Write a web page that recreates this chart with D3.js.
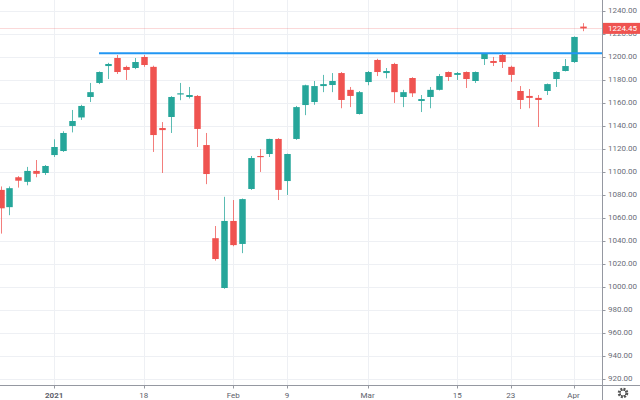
<!DOCTYPE html>
<html><head><meta charset="utf-8">
<script src="https://cdn.jsdelivr.net/npm/d3@7"></script>
<style>html,body{margin:0;padding:0;background:#fff;}svg{display:block;}</style>
</head><body>
<svg id="chart" width="640" height="400"></svg>
<script>
const dates = ["2020-12-24","2020-12-25","2020-12-28","2020-12-29","2020-12-30","2020-12-31",
"2021-01-04","2021-01-05","2021-01-06","2021-01-07","2021-01-08","2021-01-11","2021-01-12","2021-01-13","2021-01-14","2021-01-15",
"2021-01-18","2021-01-19","2021-01-20","2021-01-21","2021-01-22","2021-01-25","2021-01-26","2021-01-27","2021-01-28","2021-01-29",
"2021-02-01","2021-02-02","2021-02-03","2021-02-04","2021-02-05","2021-02-08","2021-02-09","2021-02-10","2021-02-18","2021-02-19",
"2021-02-22","2021-02-23","2021-02-24","2021-02-25","2021-02-26",
"2021-03-01","2021-03-02","2021-03-03","2021-03-04","2021-03-05","2021-03-08","2021-03-09","2021-03-10","2021-03-11","2021-03-12",
"2021-03-15","2021-03-16","2021-03-17","2021-03-18","2021-03-19","2021-03-22","2021-03-23","2021-03-24","2021-03-25","2021-03-26",
"2021-03-29","2021-03-30","2021-03-31","2021-04-01","2021-04-02"];
const open  = [1084,1069,1095,1091,1100.5,1098.7,1114.3,1117.8,1139.6,1147,1164.8,1177,1191.7,1198.7,1190.9,1190,1199.6,1191,1137.8,1147.4,1167,1164.8,1165.7,1123,1042,998.7,1057,1037,1084.8,1113.5,1115.2,1128.3,1091.7,1128.3,1157.8,1160.4,1174.3,1175.2,1185.6,1171,1150,1177.8,1197,1185.6,1193.5,1164.8,1181.3,1161.3,1164.8,1171,1186.5,1184,1186.5,1178.7,1197.8,1196.1,1201.3,1191,1170,1165.7,1164,1170,1180.4,1187.4,1195.2,1226];
const high  = [1087,1087,1096,1104,1110,1105.6,1128,1135,1153.5,1158,1177,1187,1194.5,1201.3,1192,1198.7,1201.3,1192,1143,1165.5,1177,1173.5,1166.5,1133.5,1052.6,1078,1075.2,1076.5,1113.5,1119.5,1128.5,1129,1115.5,1157,1175.5,1178.7,1184,1185.6,1186.5,1173.5,1170,1187.4,1198,1190,1194.5,1171,1182,1166.5,1173.5,1184.8,1187,1186.5,1187,1187,1203,1199.6,1202.2,1192,1174.3,1171.7,1166.5,1176.5,1187,1197.8,1217.5,1229];
const low   = [1046,1062,1086,1088,1095,1097,1112.6,1117,1134,1144.8,1160.4,1176,1180.4,1184.8,1179.6,1189,1191,1117,1098.7,1133.5,1162,1163.5,1121.3,1089,1022.5,998,1035,1029,1084,1099.6,1112.6,1075.2,1079.6,1127.5,1149,1158,1169,1169,1155,1156,1149.5,1175,1183,1181,1159.6,1156,1164.8,1151.7,1155,1170.5,1178.7,1179.6,1172.6,1177,1192.6,1191.7,1190,1178,1154.3,1155,1138.7,1166.5,1173.5,1187,1194.4,1222];
const close = [1068,1085.5,1092,1100.5,1098,1104.8,1121.3,1133.5,1143.9,1157,1169,1186.5,1193.5,1186.5,1188.3,1195.2,1192.6,1131.7,1136,1164.8,1168,1166.5,1137,1097.8,1023.9,1057,1036,1076,1111.7,1112.6,1128.3,1084,1115.2,1156,1175,1174.3,1176,1178.7,1162.2,1165.7,1169,1186.5,1186.5,1187.4,1169,1169,1168,1163,1171,1183,1182.2,1185.6,1180.4,1186.5,1202.2,1194.4,1195.2,1184,1162.2,1164,1162.2,1176,1186.5,1191.7,1217,1224.45];
const yTicks = [920,940,960,980,1000,1020,1040,1060,1080,1100,1120,1140,1160,1180,1200,1220,1240];
const xTickDates  = ["2021-01-04","2021-01-18","2021-02-01","2021-02-09","2021-03-01","2021-03-15","2021-03-23","2021-04-01"];
const xTickLabels = ["2021","18","Feb","9","Mar","15","23","Apr"];
const levelValue = 1202.8;
const levelStart = "2021-01-11";
const lastPrice = 1224.45;

const W = 640, H = 400, axisX = 602.5, axisY = 385.5;
const up = "#26a69a", down = "#ef5350";
const svg = d3.select("#chart");
const x = d3.scalePoint().domain(dates).range([0.5, 582.5]);
const y = d3.scaleLinear().domain([920, 1240]).range([378.5, 10.5]);
const font = "Roboto, 'Liberation Sans', sans-serif";

// grid
svg.append("g").selectAll("line").data(yTicks).join("line")
  .attr("x1", 0).attr("x2", axisX).attr("y1", d => Math.round(y(d)) + 0.5).attr("y2", d => Math.round(y(d)) + 0.5)
  .attr("stroke", "#eef0f4").attr("stroke-width", 1);
svg.append("g").selectAll("line").data(xTickDates).join("line")
  .attr("x1", d => Math.round(x(d)) + 0.5).attr("x2", d => Math.round(x(d)) + 0.5).attr("y1", 0).attr("y2", axisY)
  .attr("stroke", "#eef0f4").attr("stroke-width", 1);

// price line
svg.append("line").attr("x1", 0).attr("x2", axisX)
  .attr("y1", Math.round(y(lastPrice)) + 0.5).attr("y2", Math.round(y(lastPrice)) + 0.5)
  .attr("stroke", down).attr("stroke-opacity", 0.22);

// candles
const idx = d3.range(dates.length);
const bw = 6.5;
const g = svg.append("g");
g.selectAll("line.wick").data(idx).join("line").attr("class", "wick")
  .attr("x1", i => Math.round(x(dates[i])) + 0.5).attr("x2", i => Math.round(x(dates[i])) + 0.5)
  .attr("y1", i => y(high[i])).attr("y2", i => y(low[i]))
  .attr("stroke", i => close[i] >= open[i] ? up : down).attr("stroke-opacity", 0.75).attr("stroke-width", 1);
g.selectAll("rect.body").data(idx).join("rect").attr("class", "body")
  .attr("x", i => Math.round(x(dates[i])) + 0.5 - bw / 2)
  .attr("width", bw)
  .attr("y", i => y(Math.max(open[i], close[i])))
  .attr("height", i => Math.max(1.2, Math.abs(y(open[i]) - y(close[i]))))
  .attr("fill", i => close[i] >= open[i] ? up : down);

// horizontal level line
svg.append("line").attr("x1", x(levelStart)).attr("x2", axisX)
  .attr("y1", y(levelValue)).attr("y2", y(levelValue))
  .attr("stroke", "#2196f3").attr("stroke-width", 2);

// axes lines
svg.append("line").attr("x1", axisX).attr("x2", axisX).attr("y1", 0).attr("y2", H).attr("stroke", "#9598a1");
svg.append("line").attr("x1", 0).attr("x2", W).attr("y1", axisY).attr("y2", axisY).attr("stroke", "#9598a1");

// right axis ticks + labels
const ya = svg.append("g");
ya.selectAll("line").data(yTicks).join("line")
  .attr("x1", axisX).attr("x2", axisX + 3).attr("y1", d => Math.round(y(d)) + 0.5).attr("y2", d => Math.round(y(d)) + 0.5)
  .attr("stroke", "#9598a1");
ya.selectAll("text").data(yTicks).join("text")
  .attr("x", 608).attr("y", d => y(d)).attr("dy", "0.35em")
  .attr("font-family", font).attr("font-size", 8).attr("fill", "#6a6d78")
  .text(d => d3.format(".2f")(d));

// bottom axis ticks + labels
const xa = svg.append("g");
xa.selectAll("line").data(xTickDates).join("line")
  .attr("x1", d => Math.round(x(d)) + 0.5).attr("x2", d => Math.round(x(d)) + 0.5).attr("y1", axisY).attr("y2", axisY + 3)
  .attr("stroke", "#9598a1");
xa.selectAll("text").data(xTickDates).join("text")
  .attr("x", d => x(d)).attr("y", 395).attr("dy", "0.35em").attr("text-anchor", "middle")
  .attr("font-family", font).attr("font-size", 8).attr("fill", "#5d606b")
  .attr("font-weight", (d, i) => i === 0 ? 700 : 400)
  .text((d, i) => xTickLabels[i]);

// last price label
svg.append("rect").attr("x", axisX + 0.5).attr("y", y(lastPrice) - 5.5).attr("width", W - axisX).attr("height", 11).attr("fill", down);
svg.append("text").attr("x", 608).attr("y", y(lastPrice)).attr("dy", "0.35em")
  .attr("font-family", font).attr("font-size", 8).attr("fill", "#fff").text(d3.format(".2f")(lastPrice));

// gear icon
const gear = svg.append("g").attr("transform", "translate(623,393)");
gear.append("circle").attr("r", 4.2).attr("fill", "none").attr("stroke", "#555").attr("stroke-width", 2.2).attr("stroke-dasharray", "2,1.3");
gear.append("circle").attr("r", 3).attr("fill", "none").attr("stroke", "#555").attr("stroke-width", 1);
gear.append("circle").attr("r", 1.6).attr("fill", "#fff");
</script>
</body></html>
